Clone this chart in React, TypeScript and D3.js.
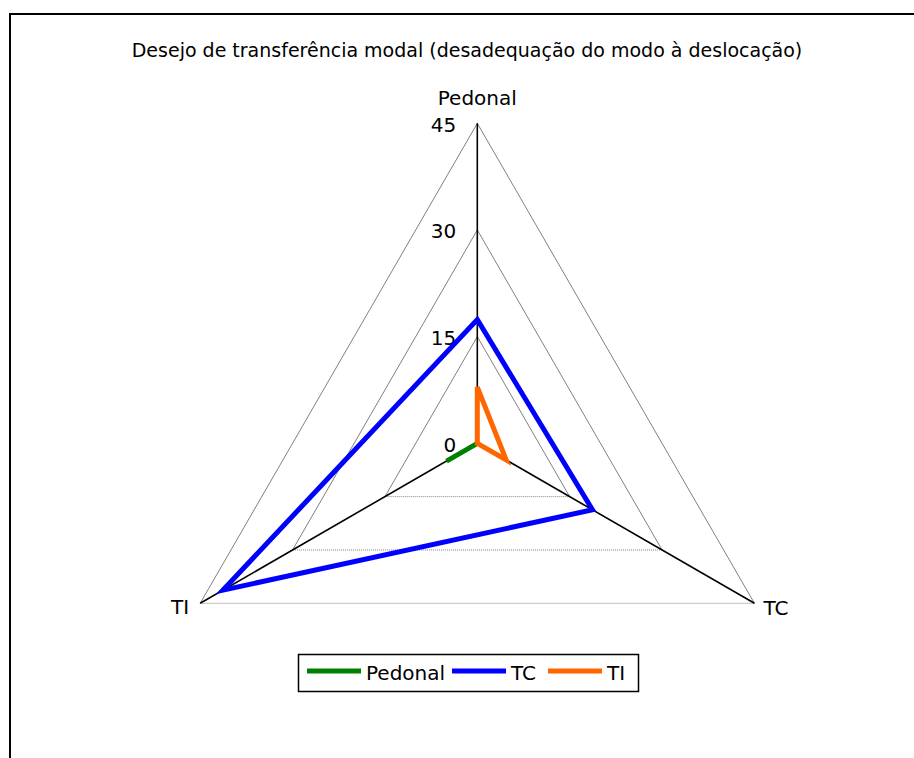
import React from "react";
import * as d3 from "d3";

const axes = ["Pedonal", "TC", "TI"];
const seriesNames = ["Pedonal", "TC", "TI"];
const pedonalValues = [0, 0, 5.0];
const tcValues = [17.4, 18.7, 41.3];
const tiValues = [7.9, 4.7, 0];
const seriesColors = ["#008000", "#0000FF", "#FF6600"];
const ticks = [0, 15, 30, 45];
const title = "Desejo de transferência modal (desadequação do modo à deslocação)";

const W = 914;
const H = 758;
const cx = 477.3;
const cy = 443.3;
const R = 320;
const FONT = "DejaVu Sans, Verdana, sans-serif";

export default function App() {
  const r = d3.scaleLinear().domain([0, 45]).range([0, R]);
  const angle = d3
    .scaleOrdinal<string, number>()
    .domain(axes)
    .range(axes.map((_, i) => -Math.PI / 2 + (i * 2 * Math.PI) / axes.length));
  const pt = (a: string, v: number): [number, number] => [
    cx + r(v) * Math.cos(angle(a)),
    cy + r(v) * Math.sin(angle(a)),
  ];
  const allSeries = [pedonalValues, tcValues, tiValues];
  const lineGen = d3.line<[number, number]>().curve(d3.curveLinearClosed);

  const gridLevels = ticks.filter((t) => t > 0);
  const outer = axes.map((a) => pt(a, 45));

  return (
    <svg width={W} height={H} style={{ position: "absolute", left: 0, top: 0 }} fontFamily={FONT}>
      <rect x={0} y={0} width={W} height={H} fill="#fff" />
      <rect x={10} y={14} width={1200} height={1200} fill="none" stroke="#000" strokeWidth={2} />
      <text x={467} y={57} textAnchor="middle" fontSize={19} fill="#000">
        {title}
      </text>
      {/* grid */}
      {gridLevels.map((lv) => {
        const p = axes.map((a) => pt(a, lv));
        return (
          <g key={lv}>
            <line x1={p[0][0]} y1={p[0][1]} x2={p[1][0]} y2={p[1][1]} stroke="#808080" strokeWidth={1} />
            <line x1={p[2][0]} y1={p[2][1]} x2={p[0][0]} y2={p[0][1]} stroke="#808080" strokeWidth={1} />
            <line x1={p[1][0]} y1={p[1][1]} x2={p[2][0]} y2={p[2][1]} stroke="#808080" strokeWidth={1} strokeDasharray="1,1" />
          </g>
        );
      })}
      {/* axes */}
      {axes.map((a) => {
        const [x, y] = pt(a, 45);
        return <line key={a} x1={cx} y1={cy} x2={x} y2={y} stroke="#000" strokeWidth={1.6} />;
      })}
      {/* tick labels */}
      {ticks.map((t) => (
        <text key={t} x={cx - 21} y={cy - r(t) + 8.5} textAnchor="end" fontSize={20} fill="#000">
          {t}
        </text>
      ))}
      {/* axis labels */}
      <text x={outer[0][0]} y={outer[0][1] - 18} textAnchor="middle" fontSize={20}>
        {axes[0]}
      </text>
      <text x={outer[1][0] + 9} y={outer[1][1] + 12} textAnchor="start" fontSize={20}>
        {axes[1]}
      </text>
      <text x={outer[2][0] - 11} y={outer[2][1] + 11} textAnchor="end" fontSize={20}>
        {axes[2]}
      </text>
      {/* series */}
      {allSeries.map((vals, i) => (
        <path
          key={seriesNames[i]}
          d={lineGen(axes.map((a, j) => pt(a, vals[j]))) || ""}
          fill="none"
          stroke={seriesColors[i]}
          strokeWidth={5}
          strokeLinejoin="miter"
        />
      ))}
      {/* legend */}
      <g>
        <rect x={298.5} y={654.5} width={340} height={37} fill="#fff" stroke="#000" strokeWidth={1.5} />
        {seriesNames.map((n, i) => {
          const starts = [307, 452, 548];
          const x0 = starts[i];
          return (
            <g key={n}>
              <line x1={x0} y1={671} x2={x0 + 54} y2={671} stroke={seriesColors[i]} strokeWidth={5} />
              <text x={x0 + 59} y={680} fontSize={20}>
                {n}
              </text>
            </g>
          );
        })}
      </g>
    </svg>
  );
}
